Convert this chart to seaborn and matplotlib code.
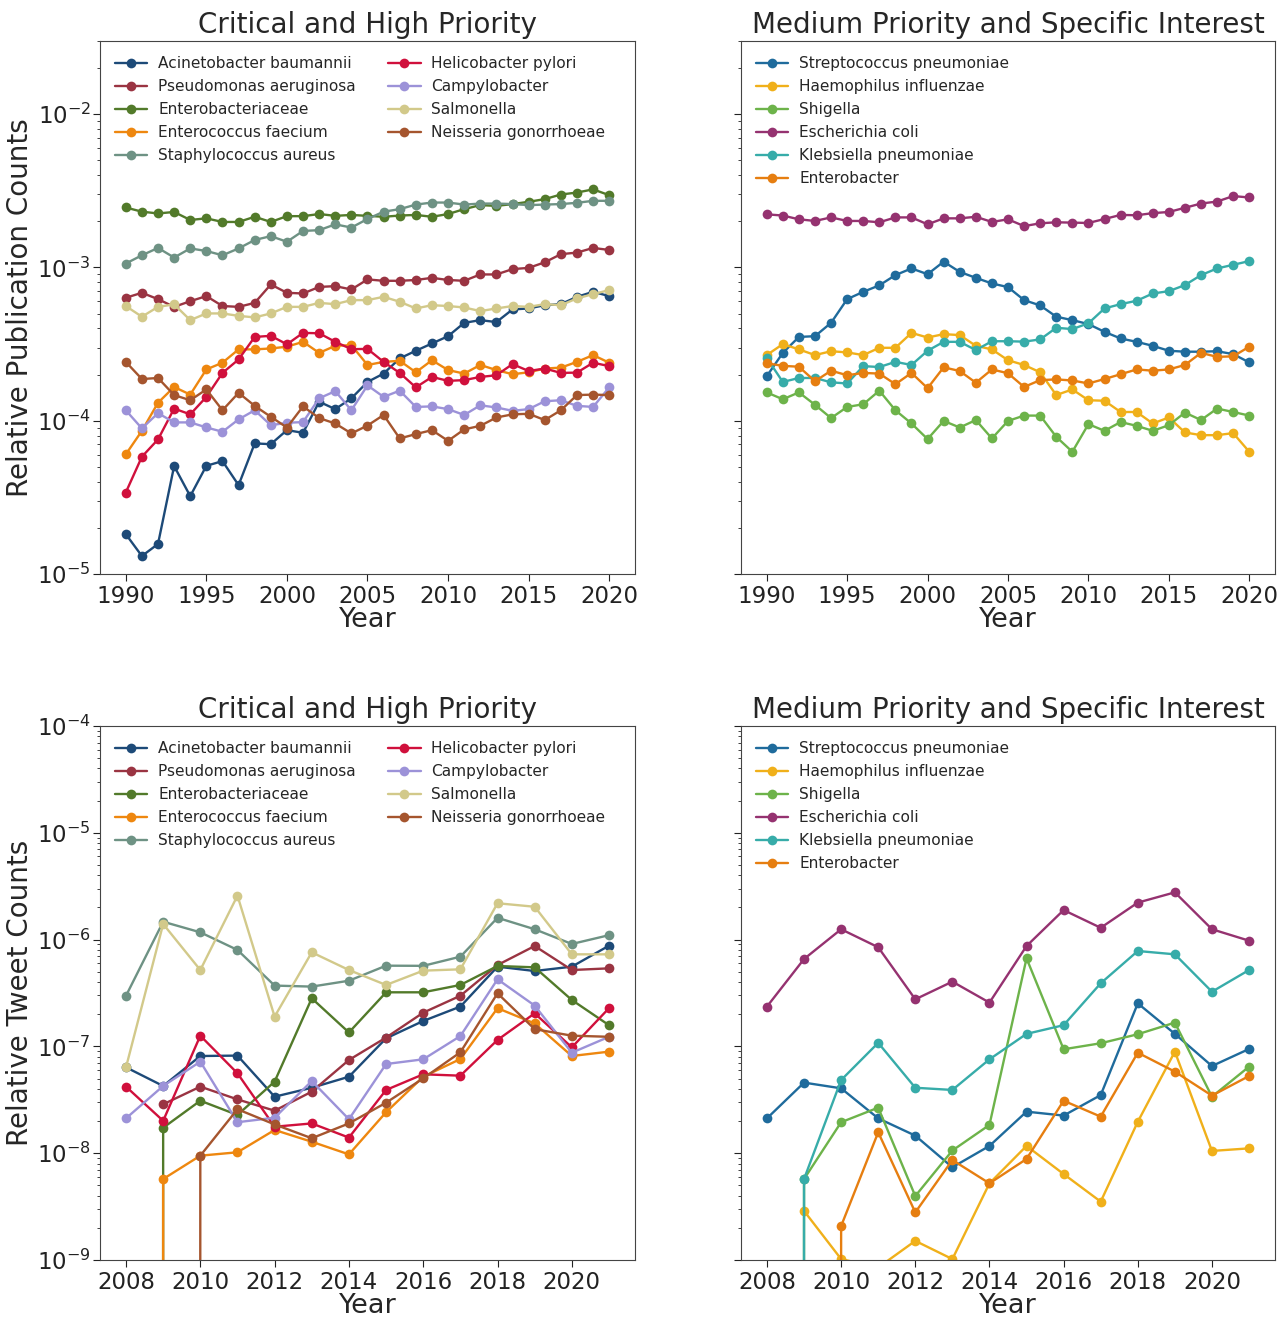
import numpy as np
import pandas as pd
import matplotlib
matplotlib.use("Agg")
import matplotlib.pyplot as plt
import seaborn as sns

# ---------------- data ----------------
pub_years = list(range(1990, 2021))
tweet_years = list(range(2008, 2022))

# Relative publication counts, critical and high priority pathogens
pub_acinetobacter = [1.82e-5, 1.31e-5, 1.57e-5, 5.06e-5, 3.22e-5, 5.08e-5, 5.45e-5, 3.80e-5, 7.11e-5, 7.03e-5,
                     8.68e-5, 8.34e-5, 1.33e-4, 1.19e-4, 1.40e-4, 1.79e-4, 2.03e-4, 2.55e-4, 2.86e-4, 3.19e-4,
                     3.56e-4, 4.35e-4, 4.53e-4, 4.40e-4, 5.32e-4, 5.40e-4, 5.67e-4, 5.76e-4, 6.43e-4, 6.93e-4, 6.50e-4]
pub_pseudomonas = [6.34e-4, 6.83e-4, 6.21e-4, 5.53e-4, 6.02e-4, 6.50e-4, 5.60e-4, 5.53e-4, 5.87e-4, 7.74e-4,
                   6.83e-4, 6.76e-4, 7.46e-4, 7.55e-4, 7.18e-4, 8.35e-4, 8.18e-4, 8.18e-4, 8.28e-4, 8.55e-4,
                   8.28e-4, 8.18e-4, 9.00e-4, 9.00e-4, 9.75e-4, 9.93e-4, 1.08e-3, 1.22e-3, 1.25e-3, 1.34e-3, 1.30e-3]
pub_enterobacteriaceae = [2.46e-3, 2.31e-3, 2.25e-3, 2.30e-3, 2.04e-3, 2.09e-3, 1.98e-3, 1.98e-3, 2.14e-3, 1.98e-3,
                          2.16e-3, 2.16e-3, 2.23e-3, 2.17e-3, 2.20e-3, 2.17e-3, 2.14e-3, 2.18e-3, 2.20e-3, 2.14e-3,
                          2.23e-3, 2.40e-3, 2.55e-3, 2.52e-3, 2.59e-3, 2.68e-3, 2.79e-3, 2.99e-3, 3.08e-3, 3.23e-3, 2.96e-3]
pub_enterococcus = [6.03e-5, 8.59e-5, 1.31e-4, 1.66e-4, 1.48e-4, 2.16e-4, 2.39e-4, 2.92e-4, 2.92e-4, 2.96e-4,
                    3.04e-4, 3.27e-4, 2.77e-4, 3.08e-4, 3.11e-4, 2.31e-4, 2.42e-4, 2.46e-4, 2.07e-4, 2.48e-4,
                    2.14e-4, 2.03e-4, 2.31e-4, 2.14e-4, 2.01e-4, 2.07e-4, 2.19e-4, 2.22e-4, 2.42e-4, 2.68e-4, 2.39e-4]
pub_staphylococcus = [1.06e-3, 1.20e-3, 1.34e-3, 1.16e-3, 1.33e-3, 1.28e-3, 1.20e-3, 1.33e-3, 1.51e-3, 1.60e-3,
                      1.47e-3, 1.73e-3, 1.75e-3, 1.91e-3, 1.82e-3, 2.07e-3, 2.31e-3, 2.40e-3, 2.57e-3, 2.65e-3,
                      2.65e-3, 2.57e-3, 2.61e-3, 2.61e-3, 2.59e-3, 2.55e-3, 2.57e-3, 2.59e-3, 2.64e-3, 2.72e-3, 2.72e-3]
pub_helicobacter = [3.40e-5, 5.82e-5, 7.55e-5, 1.20e-4, 1.10e-4, 1.43e-4, 2.05e-4, 2.51e-4, 3.52e-4, 3.58e-4,
                    3.15e-4, 3.74e-4, 3.72e-4, 3.27e-4, 2.93e-4, 2.94e-4, 2.42e-4, 2.05e-4, 1.65e-4, 1.93e-4,
                    1.82e-4, 1.84e-4, 1.93e-4, 1.98e-4, 2.34e-4, 2.11e-4, 2.19e-4, 2.05e-4, 2.06e-4, 2.39e-4, 2.27e-4]
pub_campylobacter = [1.17e-4, 8.91e-5, 1.12e-4, 9.75e-5, 9.75e-5, 9.04e-5, 8.47e-5, 1.02e-4, 1.17e-4, 9.35e-5,
                     9.69e-5, 9.80e-5, 1.40e-4, 1.56e-4, 1.17e-4, 1.70e-4, 1.43e-4, 1.57e-4, 1.23e-4, 1.24e-4,
                     1.19e-4, 1.09e-4, 1.26e-4, 1.22e-4, 1.16e-4, 1.19e-4, 1.34e-4, 1.36e-4, 1.25e-4, 1.23e-4, 1.65e-4]
pub_salmonella = [5.60e-4, 4.77e-4, 5.53e-4, 5.74e-4, 4.53e-4, 5.01e-4, 5.01e-4, 4.83e-4, 4.72e-4, 5.01e-4,
                  5.53e-4, 5.53e-4, 5.87e-4, 5.76e-4, 6.12e-4, 6.12e-4, 6.43e-4, 5.97e-4, 5.40e-4, 5.67e-4,
                  5.60e-4, 5.48e-4, 5.19e-4, 5.40e-4, 5.60e-4, 5.53e-4, 5.76e-4, 5.67e-4, 6.28e-4, 6.70e-4, 7.11e-4]
pub_neisseria = [2.42e-4, 1.87e-4, 1.90e-4, 1.47e-4, 1.36e-4, 1.60e-4, 1.17e-4, 1.52e-4, 1.25e-4, 1.06e-4,
                 9.03e-5, 1.24e-4, 1.04e-4, 9.59e-5, 8.26e-5, 9.30e-5, 1.09e-4, 7.66e-5, 8.18e-5, 8.68e-5,
                 7.39e-5, 8.78e-5, 9.26e-5, 1.05e-4, 1.10e-4, 1.11e-4, 1.01e-4, 1.17e-4, 1.47e-4, 1.48e-4, 1.47e-4]

# Relative publication counts, medium priority and specific interest
pub_streptococcus = [1.95e-4, 2.77e-4, 3.52e-4, 3.56e-4, 4.35e-4, 6.21e-4, 6.93e-4, 7.64e-4, 8.91e-4, 9.85e-4,
                     9.03e-4, 1.09e-3, 9.35e-4, 8.55e-4, 7.86e-4, 7.44e-4, 6.12e-4, 5.65e-4, 4.77e-4, 4.53e-4,
                     4.27e-4, 3.80e-4, 3.44e-4, 3.27e-4, 3.08e-4, 2.86e-4, 2.82e-4, 2.82e-4, 2.84e-4, 2.72e-4, 2.40e-4]
pub_haemophilus = [2.68e-4, 3.16e-4, 2.92e-4, 2.68e-4, 2.84e-4, 2.79e-4, 2.68e-4, 2.99e-4, 2.99e-4, 3.74e-4,
                   3.49e-4, 3.67e-4, 3.62e-4, 3.08e-4, 2.92e-4, 2.48e-4, 2.31e-4, 2.07e-4, 1.47e-4, 1.60e-4,
                   1.36e-4, 1.35e-4, 1.14e-4, 1.14e-4, 9.59e-5, 1.05e-4, 8.38e-5, 8.05e-5, 8.05e-5, 8.30e-5, 6.27e-5]
pub_shigella = [1.53e-4, 1.38e-4, 1.53e-4, 1.27e-4, 1.04e-4, 1.23e-4, 1.28e-4, 1.57e-4, 1.17e-4, 9.59e-5,
                7.59e-5, 9.97e-5, 9.03e-5, 1.01e-4, 7.66e-5, 9.97e-5, 1.08e-4, 1.08e-4, 7.85e-5, 6.27e-5,
                9.50e-5, 8.59e-5, 9.80e-5, 9.26e-5, 8.59e-5, 9.35e-5, 1.13e-4, 1.01e-4, 1.20e-4, 1.14e-4, 1.08e-4]
pub_ecoli = [2.22e-3, 2.18e-3, 2.06e-3, 2.01e-3, 2.12e-3, 2.01e-3, 2.01e-3, 1.97e-3, 2.12e-3, 2.12e-3,
             1.91e-3, 2.09e-3, 2.09e-3, 2.14e-3, 1.98e-3, 2.06e-3, 1.86e-3, 1.94e-3, 1.97e-3, 1.96e-3,
             1.95e-3, 2.07e-3, 2.20e-3, 2.19e-3, 2.26e-3, 2.30e-3, 2.45e-3, 2.61e-3, 2.69e-3, 2.92e-3, 2.86e-3]
pub_klebsiella = [2.57e-4, 1.79e-4, 1.90e-4, 1.90e-4, 1.78e-4, 1.75e-4, 2.27e-4, 2.24e-4, 2.42e-4, 2.31e-4,
                  2.86e-4, 3.27e-4, 3.27e-4, 2.89e-4, 3.30e-4, 3.30e-4, 3.28e-4, 3.39e-4, 4.04e-4, 3.96e-4,
                  4.32e-4, 5.40e-4, 5.76e-4, 6.06e-4, 6.76e-4, 7.00e-4, 7.67e-4, 8.91e-4, 9.85e-4, 1.04e-3, 1.10e-3]
pub_enterobacter = [2.37e-4, 2.28e-4, 2.25e-4, 1.81e-4, 2.12e-4, 1.98e-4, 2.05e-4, 2.03e-4, 1.73e-4, 2.05e-4,
                    1.63e-4, 2.23e-4, 2.11e-4, 1.77e-4, 2.16e-4, 2.04e-4, 1.66e-4, 1.84e-4, 1.86e-4, 1.83e-4,
                    1.75e-4, 1.87e-4, 2.01e-4, 2.16e-4, 2.12e-4, 2.16e-4, 2.31e-4, 2.77e-4, 2.61e-4, 2.63e-4, 3.04e-4]

# Relative tweet counts, critical and high priority pathogens (0 = no tweets that year)
tw_acinetobacter = [6.37e-8, 4.26e-8, 8.13e-8, 8.20e-8, 3.38e-8, 4.10e-8, 5.20e-8,
                    1.19e-7, 1.73e-7, 2.36e-7, 5.58e-7, 5.08e-7, 5.58e-7, 8.77e-7]
tw_pseudomonas = [np.nan, 2.87e-8, 4.20e-8, 3.19e-8, 2.50e-8, 3.77e-8, 7.46e-8,
                  1.21e-7, 2.07e-7, 2.98e-7, 5.78e-7, 8.71e-7, 5.19e-7, 5.38e-7]
tw_enterobacteriaceae = [0.0, 1.73e-8, 3.10e-8, 2.28e-8, 4.68e-8, 2.82e-7, 1.35e-7,
                         3.21e-7, 3.21e-7, 3.76e-7, 5.66e-7, 5.50e-7, 2.72e-7, 1.58e-7]
tw_enterococcus = [0.0, 5.73e-9, 9.48e-9, 1.02e-8, 1.65e-8, 1.28e-8, 9.75e-9,
                   2.42e-8, 5.20e-8, 7.62e-8, 2.28e-7, 1.64e-7, 8.13e-8, 8.93e-8]
tw_staphylococcus = [2.98e-7, 1.47e-6, 1.17e-6, 8.00e-7, 3.71e-7, 3.63e-7, 4.12e-7,
                     5.70e-7, 5.68e-7, 6.92e-7, 1.60e-6, 1.25e-6, 9.10e-7, 1.10e-6]
tw_helicobacter = [4.20e-8, 2.01e-8, 1.26e-7, 5.60e-8, 1.77e-8, 1.90e-8, 1.40e-8,
                   3.91e-8, 5.48e-8, 5.32e-8, 1.15e-7, 2.04e-7, 9.80e-8, 2.28e-7]
tw_campylobacter = [2.12e-8, 4.26e-8, 7.20e-8, 1.95e-8, 2.15e-8, 4.74e-8, 2.08e-8,
                    6.84e-8, 7.57e-8, 1.25e-7, 4.25e-7, 2.41e-7, 8.73e-8, 1.23e-7]
tw_salmonella = [6.37e-8, 1.40e-6, 5.19e-7, 2.58e-6, 1.90e-7, 7.60e-7, 5.19e-7,
                 3.76e-7, 5.12e-7, 5.27e-7, 2.19e-6, 2.03e-6, 7.28e-7, 7.28e-7]
tw_neisseria = [0.0, 0.0, 9.48e-9, 2.58e-8, 1.86e-8, 1.38e-8, 1.90e-8,
                2.97e-8, 5.02e-8, 8.81e-8, 3.14e-7, 1.45e-7, 1.26e-7, 1.23e-7]

# Relative tweet counts, medium priority and specific interest
tw_streptococcus = [2.12e-8, 4.58e-8, 4.05e-8, 2.12e-8, 1.46e-8, 7.38e-9, 1.17e-8,
                    2.45e-8, 2.25e-8, 3.50e-8, 2.53e-7, 1.31e-7, 6.55e-8, 9.46e-8]
tw_haemophilus = [np.nan, 2.88e-9, 1.02e-9, 8.5e-10, 1.51e-9, 1.02e-9, 5.22e-9,
                  1.17e-8, 6.38e-9, 3.52e-9, 1.97e-8, 8.93e-8, 1.05e-8, 1.11e-8]
tw_shigella = [0.0, 5.73e-9, 1.95e-8, 2.67e-8, 3.97e-9, 1.06e-8, 1.84e-8,
               6.68e-7, 9.40e-8, 1.07e-7, 1.30e-7, 1.67e-7, 3.38e-8, 6.46e-8]
tw_ecoli = [2.36e-7, 6.58e-7, 1.25e-6, 8.48e-7, 2.76e-7, 4.04e-7, 2.57e-7,
            8.71e-7, 1.89e-6, 1.29e-6, 2.22e-6, 2.77e-6, 1.25e-6, 9.77e-7]
tw_klebsiella = [0.0, 5.73e-9, 4.84e-8, 1.08e-7, 4.10e-8, 3.91e-8, 7.57e-8,
                 1.31e-7, 1.58e-7, 3.90e-7, 7.82e-7, 7.28e-7, 3.25e-7, 5.19e-7]
tw_enterobacter = [0.0, 0.0, 2.08e-9, 1.57e-8, 2.79e-9, 8.63e-9, 5.22e-9,
                   8.83e-9, 3.10e-8, 2.20e-8, 8.73e-8, 5.80e-8, 3.46e-8, 5.28e-8]

critical_names = ["Acinetobacter baumannii", "Pseudomonas aeruginosa", "Enterobacteriaceae",
                  "Enterococcus faecium", "Staphylococcus aureus", "Helicobacter pylori",
                  "Campylobacter", "Salmonella", "Neisseria gonorrhoeae"]
critical_colors = ["#1d4a78", "#9a3442", "#527a2a", "#ee870f", "#6e9284",
                   "#d0103c", "#9c92d8", "#d2c98a", "#a5552e"]
medium_names = ["Streptococcus pneumoniae", "Haemophilus influenzae", "Shigella",
                "Escherichia coli", "Klebsiella pneumoniae", "Enterobacter"]
medium_colors = ["#1f6b9c", "#f0b01a", "#6db34a", "#953270", "#37aca9", "#e67e10"]

pub_critical = [pub_acinetobacter, pub_pseudomonas, pub_enterobacteriaceae, pub_enterococcus,
                pub_staphylococcus, pub_helicobacter, pub_campylobacter, pub_salmonella, pub_neisseria]
pub_medium = [pub_streptococcus, pub_haemophilus, pub_shigella, pub_ecoli, pub_klebsiella, pub_enterobacter]
tw_critical = [tw_acinetobacter, tw_pseudomonas, tw_enterobacteriaceae, tw_enterococcus,
               tw_staphylococcus, tw_helicobacter, tw_campylobacter, tw_salmonella, tw_neisseria]
tw_medium = [tw_streptococcus, tw_haemophilus, tw_shigella, tw_ecoli, tw_klebsiella, tw_enterobacter]

# ---------------- style ----------------
sns.set_style("ticks")
plt.rcParams["font.family"] = ["DejaVu Sans"]
plt.rcParams["axes.edgecolor"] = "#444444"
plt.rcParams["xtick.color"] = "#222222"
plt.rcParams["ytick.color"] = "#222222"

fig = plt.figure(figsize=(12.84, 13.19), dpi=100)
W, H = 1284, 1319


def add_axes(x0, y0, x1, y1):
    return fig.add_axes([x0 / W, 1 - y1 / H, (x1 - x0) / W, (y1 - y0) / H])


ax_pc = add_axes(100, 41, 635, 574)
ax_pm = add_axes(741, 41, 1275, 574)
ax_tc = add_axes(100, 726, 635, 1260)
ax_tm = add_axes(741, 726, 1275, 1260)


def draw_panel(ax, years, series, names, colors, ncol):
    for vals, name, color in zip(series, names, colors):
        df = pd.DataFrame({"Year": years, "value": vals}).dropna()
        sns.lineplot(data=df, x="Year", y="value", color=color, marker="o",
                     markersize=7, markeredgewidth=0, linewidth=1.7,
                     label=name, ax=ax, errorbar=None)
    ax.set_yscale("log")
    ax.legend(loc="upper left", ncol=ncol, frameon=False, fontsize=11.1,
              handlelength=2.1, handletextpad=0.7, columnspacing=2.1,
              labelspacing=0.52, borderaxespad=0.4, bbox_to_anchor=(0.005, 0.995))
    ax.tick_params(axis="x", which="major", labelsize=16.5, length=5, pad=3)
    ax.tick_params(axis="y", which="major", labelsize=16.5, length=5, pad=1.5)
    ax.set_xlabel("Year", fontsize=19.5, labelpad=-1)


draw_panel(ax_pc, pub_years, pub_critical, critical_names, critical_colors, 2)
draw_panel(ax_pm, pub_years, pub_medium, medium_names, medium_colors, 1)
draw_panel(ax_tc, tweet_years, tw_critical, critical_names, critical_colors, 2)
draw_panel(ax_tm, tweet_years, tw_medium, medium_names, medium_colors, 1)

for ax in (ax_pc, ax_pm):
    ax.set_ylim(1e-5, 3e-2)
    ax.set_xticks([1990, 1995, 2000, 2005, 2010, 2015, 2020])
    ax.set_xlim(1988.4, 2021.6)
for ax in (ax_tc, ax_tm):
    ax.set_ylim(1e-9, 1e-4)
    ax.set_xticks([2008, 2010, 2012, 2014, 2016, 2018, 2020])
    ax.set_xlim(2007.3, 2021.7)

titles = ["Critical and High Priority", "Medium Priority and Specific Interest"]
for ax, t in zip((ax_pc, ax_pm, ax_tc, ax_tm), titles * 2):
    ax.set_title(t, fontsize=20, pad=6)

ax_pc.set_ylabel("Relative Publication Counts", fontsize=20, labelpad=2)
ax_tc.set_ylabel("Relative Tweet Counts", fontsize=20, labelpad=2)
for ax in (ax_pm, ax_tm):
    ax.set_ylabel("")
    ax.tick_params(axis="y", which="both", labelleft=False)

fig.savefig("out.png", dpi=100)
